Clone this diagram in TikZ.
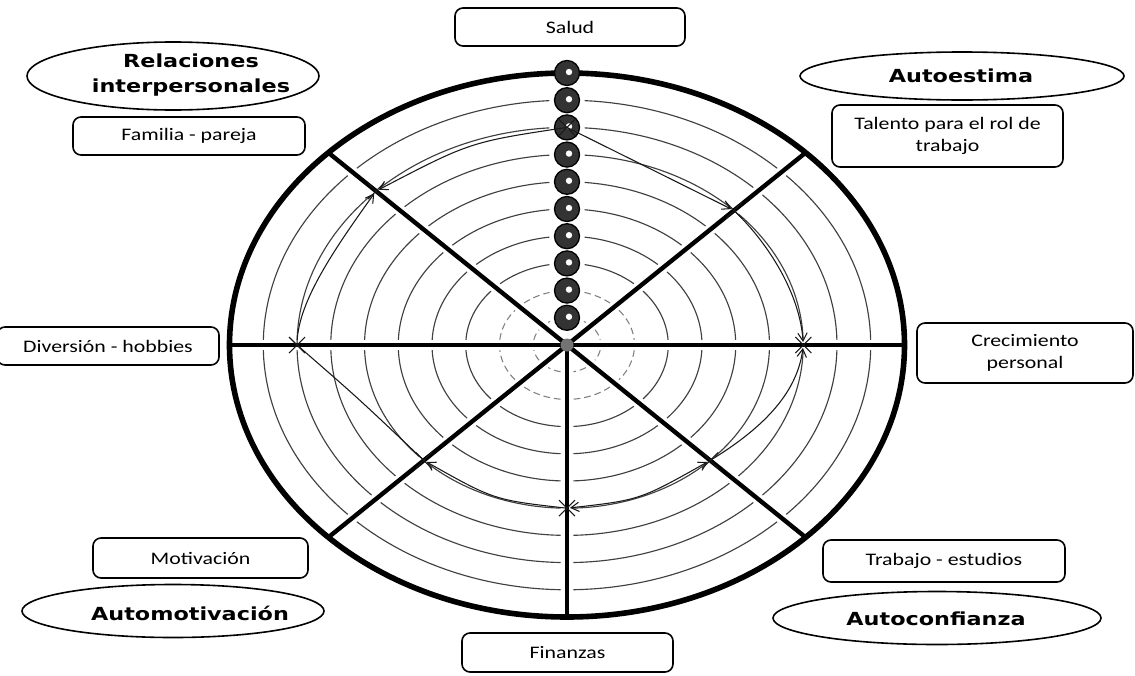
\documentclass[tikz,border=0pt]{standalone}
\usepackage{fontspec}
\setmainfont{Carlito}[FakeStretch=1.24]
\newfontfamily\boldfam{DejaVu Sans}[FakeStretch=1.24]
\usetikzlibrary{arrows.meta,shapes.geometric}
\newlength\pxu
\setlength\pxu{0.75pt}
\newcommand\labfont{\fontsize{13.2pt}{17pt}\selectfont}
\newcommand\boldlabfont{\boldfam\bfseries\fontsize{13.5pt}{18.75pt}\selectfont}
\begin{document}
\begin{tikzpicture}[x=0.75pt,y=-0.75pt,
  ring/.style={black!75,line width=0.85pt},
  ringdash/.style={black!50,line width=0.8pt,dash pattern=on 5pt off 3pt},
  rim/.style={line width=4.2pt},
  spoke/.style={line width=3.3pt},
  box/.style={draw,rounded corners=8\pxu,line width=1.2pt,align=center,inner sep=0pt,font=\labfont},
  oval/.style={draw,ellipse,line width=1.2pt,inner sep=0pt},
  bigl/.style={align=center,font=\boldlabfont,inner sep=0pt},
  trc/.style={black!90,line width=0.8pt},
  arr/.style={-{Straight Barb[length=6pt,width=7pt,line width=0.8pt]}},
  darr/.style={{Straight Barb[length=6pt,width=7pt,line width=0.8pt]}-{Straight Barb[length=6pt,width=7pt,line width=0.8pt]}},
  xm/.style={black!90,line width=0.8pt},
  bead/.style={fill=black!80,draw=black,line width=1pt}
]
\fill[white] (0,0) rectangle (1135,675);
\useasboundingbox (0,0) rectangle (1135,675);

\coordinate (C) at (567,345);

% concentric rings, broken at the spokes
\foreach \k in {1,...,9}{
  \pgfmathsetmacro\ra{33.75*\k}
  \pgfmathsetmacro\rb{27.2*\k}
  \pgfmathsetmacro\g{11/\k}
  \pgfmathsetmacro\G{30/\k}
  \ifnum\k<3 \tikzset{cur/.style=ringdash}\else\tikzset{cur/.style=ring}\fi
  \foreach \s in {-45,0,45,90,135,180}{
    \draw[cur] plot[domain={\s+\g}:{\s+45-\g},samples=24,variable=\t]
      ({567+\ra*cos(\t)},{345+\rb*sin(\t)});
  }
  \draw[cur] plot[domain={225+\g}:{270-\G},samples=24,variable=\t]
      ({567+\ra*cos(\t)},{345+\rb*sin(\t)});
  \draw[cur] plot[domain={270+\G}:{315-\g},samples=24,variable=\t]
      ({567+\ra*cos(\t)},{345+\rb*sin(\t)});
}

% outer rim
\draw[rim] (C) ellipse [x radius=337.5\pxu, y radius=272\pxu];

% spokes
\coordinate (eR) at (904.5,345);
\coordinate (eL) at (229.5,345);
\coordinate (eD) at (567,617);
\coordinate (eUR) at (805.6,152.7);
\coordinate (eUL) at (328.4,152.7);
\coordinate (eDL) at (328.4,537.3);
\coordinate (eDR) at (805.6,537.3);
\draw[spoke] (eL) -- (eR);
\draw[spoke] (C) -- (eD);
\draw[spoke] (C) -- (eUR);
\draw[spoke] (C) -- (eUL);
\draw[spoke] (C) -- (eDL);
\draw[spoke] (C) -- (eDR);

% scale beads
\foreach \k in {1,...,10}{
  \path[bead] (567,{345-27.2*\k}) circle[radius=12.5\pxu];
  \fill[white] (569,{345-27.2*\k-1}) circle[radius=3.2\pxu];
}
\fill[black!55] (C) circle[radius=6.5\pxu];

% hand-drawn trace
\coordinate (sal) at (567,127.4);
\coordinate (tal) at (734,210.4);
\coordinate (cre) at (803.3,345);
\coordinate (tra) at (710.2,460.4);
\coordinate (fin) at (567,508.2);
\coordinate (mot) at (423.8,460.4);
\coordinate (div) at (297,345);
\coordinate (fam) at (376,191.1);

\draw[trc,arr,shorten >=3\pxu] (div) .. controls (297,305) and (330,255) .. (fam);
\draw[trc,arr,shorten >=3\pxu] (sal) .. controls (470,142) .. (fam);
\draw[trc,arr,shorten >=3\pxu] (sal) -- (tal);
\draw[trc,arr,shorten >=3\pxu] (tal) .. controls (770,245) and (800,295) .. (cre);
\draw[trc,arr,shorten >=3\pxu] (tra) .. controls (760,430) and (797,395) .. (cre);
\draw[trc,darr,shorten >=3\pxu,shorten <=3\pxu] (fin) .. controls (640,500) .. (tra);
\draw[trc,arr,shorten >=3\pxu] (fin) .. controls (494,500) .. (mot);
\draw[trc] (mot) .. controls (358,398) .. (div);

\foreach \p in {sal,tal,cre,tra,fin,mot,div,fam}
  \draw[xm] (\p) +(-8,-8) -- +(8,8) +(-8,8) -- +(8,-8);

% category boxes
\node[box,minimum width=230\pxu,minimum height=38\pxu] (salud) at (570,27) {Salud};
\node[box,minimum width=232\pxu,minimum height=38\pxu] (familia) at (189,136) {Familia - pareja};
\node[box,minimum width=231\pxu,minimum height=62\pxu] (talento) at (947.5,136) {Talento para el rol de\\trabajo};
\node[box,minimum width=222\pxu,minimum height=38\pxu] (diversion) at (108,346) {Diversión - hobbies};
\node[box,minimum width=216\pxu,minimum height=60\pxu] (crecim) at (1025,353) {Crecimiento\\personal};
\node[box,minimum width=215\pxu,minimum height=40\pxu] (motiv) at (200.5,558) {Motivación};
\node[box,minimum width=242\pxu,minimum height=42\pxu] (trabajo) at (944,561) {Trabajo - estudios};
\node[box,minimum width=211\pxu,minimum height=39\pxu] (finanzas) at (567.5,652.5) {Finanzas};

% group ellipses
\node[oval,minimum width=292\pxu,minimum height=68\pxu] (relE) at (173,76) {};
\node[bigl] (rel) at (191,75) {Relaciones\\interpersonales};
\node[oval,minimum width=324\pxu,minimum height=48\pxu] (autoE) at (962,76) {};
\node[bigl] (autoest) at (961,76) {Autoestima};
\node[oval,minimum width=302\pxu,minimum height=53\pxu] (amotE) at (173,611) {};
\node[bigl] (amot) at (190,613) {Automotivación};
\node[oval,minimum width=328\pxu,minimum height=53\pxu] (aconfE) at (937,618) {};
\node[bigl] (aconf) at (936,619) {Autoconfianza};
\end{tikzpicture}
\end{document}
